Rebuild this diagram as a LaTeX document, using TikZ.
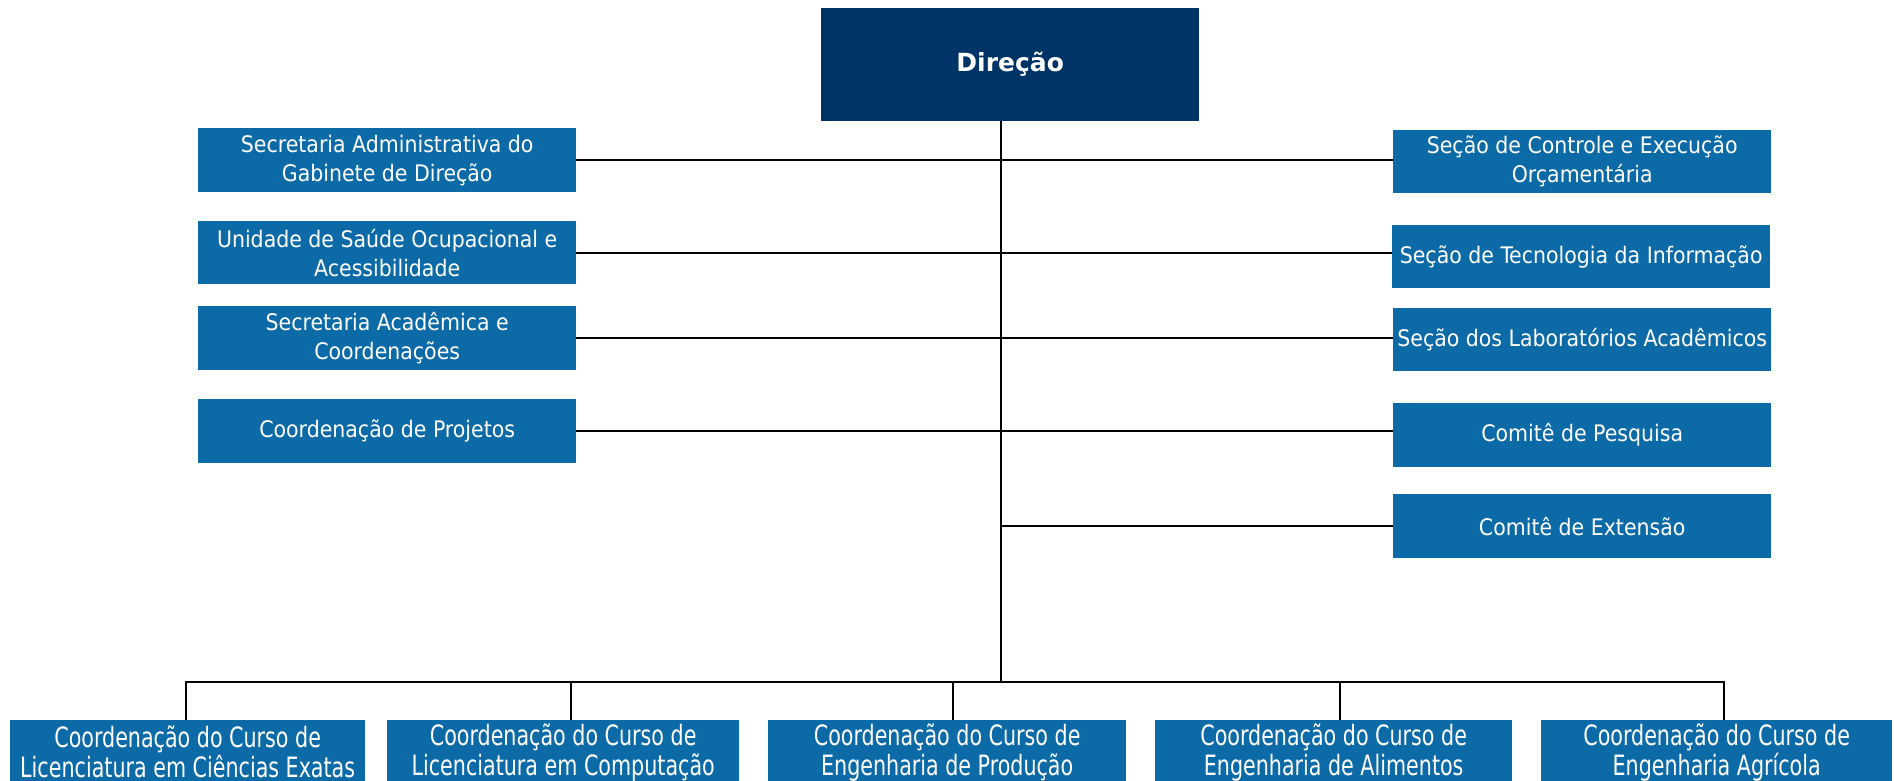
\documentclass[tikz,border=0pt]{standalone}
\usepackage{fontspec}
\setmainfont{DejaVu Sans Condensed}
\newfontfamily\headfont{DejaVu Sans}
\newfontfamily\botfont{DejaVu Sans Condensed}[FakeStretch=0.82]
\definecolor{navy}{HTML}{003366}
\definecolor{boxblue}{HTML}{0C6AA7}
\begin{document}
\begin{tikzpicture}[x=1pt,y=-1pt,
  unit/.style={fill=boxblue,text=white,anchor=north west,inner sep=0pt,
    minimum width=378pt,minimum height=64pt,align=center,
    font=\fontsize{22.8}{29}\selectfont},
  botunit/.style={unit,font=\botfont\fontsize{28}{30}\selectfont},
  link/.style={line width=2.2pt,black}]
\clip (0,0) rectangle (1894,781);
\useasboundingbox (0,0) rectangle (1894,781);
\fill[white] (0,0) rectangle (1894,781);
% head
\node[fill=navy,text=white,anchor=north west,inner sep=0pt,minimum width=378pt,
  minimum height=113pt,font=\headfont\bfseries\fontsize{25}{28}\selectfont] (dir) at (821,8) {Direção};
% left
\node[unit] (L1) at (198,128) {Secretaria Administrativa do\\Gabinete de Direção};
\node[unit,minimum height=63pt] (L2) at (198,221) {Unidade de Saúde Ocupacional e\\Acessibilidade};
\node[unit] (L3) at (198,306) {Secretaria Acadêmica e\\Coordenações};
\node[unit] (L4) at (198,399) {Coordenação de Projetos};
% right
\node[unit,minimum height=63pt] (R1) at (1393,130) {Seção de Controle e Execução\\Orçamentária};
\node[unit,minimum height=63pt] (R2) at (1392,225) {Seção de Tecnologia da Informação};
\node[unit,minimum height=63pt] (R3) at (1393,308) {Seção dos Laboratórios Acadêmicos};
\node[unit] (R4) at (1393,403) {Comitê de Pesquisa};
\node[unit] (R5) at (1393,494) {Comitê de Extensão};
% bottom
\node[botunit,minimum width=355pt] (B1) at (10,720) {Coordenação do Curso de\\Licenciatura em Ciências Exatas};
\node[botunit,minimum width=352pt] (B2) at (387,720) {Coordenação do Curso de\\Licenciatura em Computação};
\node[botunit,minimum width=358pt] (B3) at (768,720) {Coordenação do Curso de\\Engenharia de Produção};
\node[botunit,minimum width=357pt] (B4) at (1155,720) {Coordenação do Curso de\\Engenharia de Alimentos};
\node[botunit,minimum width=351pt] (B5) at (1541,720) {Coordenação do Curso de\\Engenharia Agrícola};
% spine
\coordinate (top) at (1001,121);
\coordinate (bus) at (1001,682);
\coordinate (t1) at (186,682);
\coordinate (t2) at (571,682);
\coordinate (t3) at (953,682);
\coordinate (t4) at (1340,682);
\coordinate (t5) at (1724,682);
\draw[link] (top) -- (bus);
\draw[link] (L1.east) -- (L1.east -| R1.west);
\draw[link] (L2.east) -- (L2.east -| R2.west);
\draw[link] (L3.east) -- (L3.east -| R3.west);
\draw[link] (L4.east) -- (L4.east -| R4.west);
\draw[link] (R5.west -| top) -- (R5.west);
\draw[link] (t1 |- B1.north) -- (t1) -- (t5) -- (t5 |- B5.north);
\draw[link] (t2) -- (t2 |- B2.north);
\draw[link] (t3) -- (t3 |- B3.north);
\draw[link] (t4) -- (t4 |- B4.north);
\end{tikzpicture}
\end{document}
